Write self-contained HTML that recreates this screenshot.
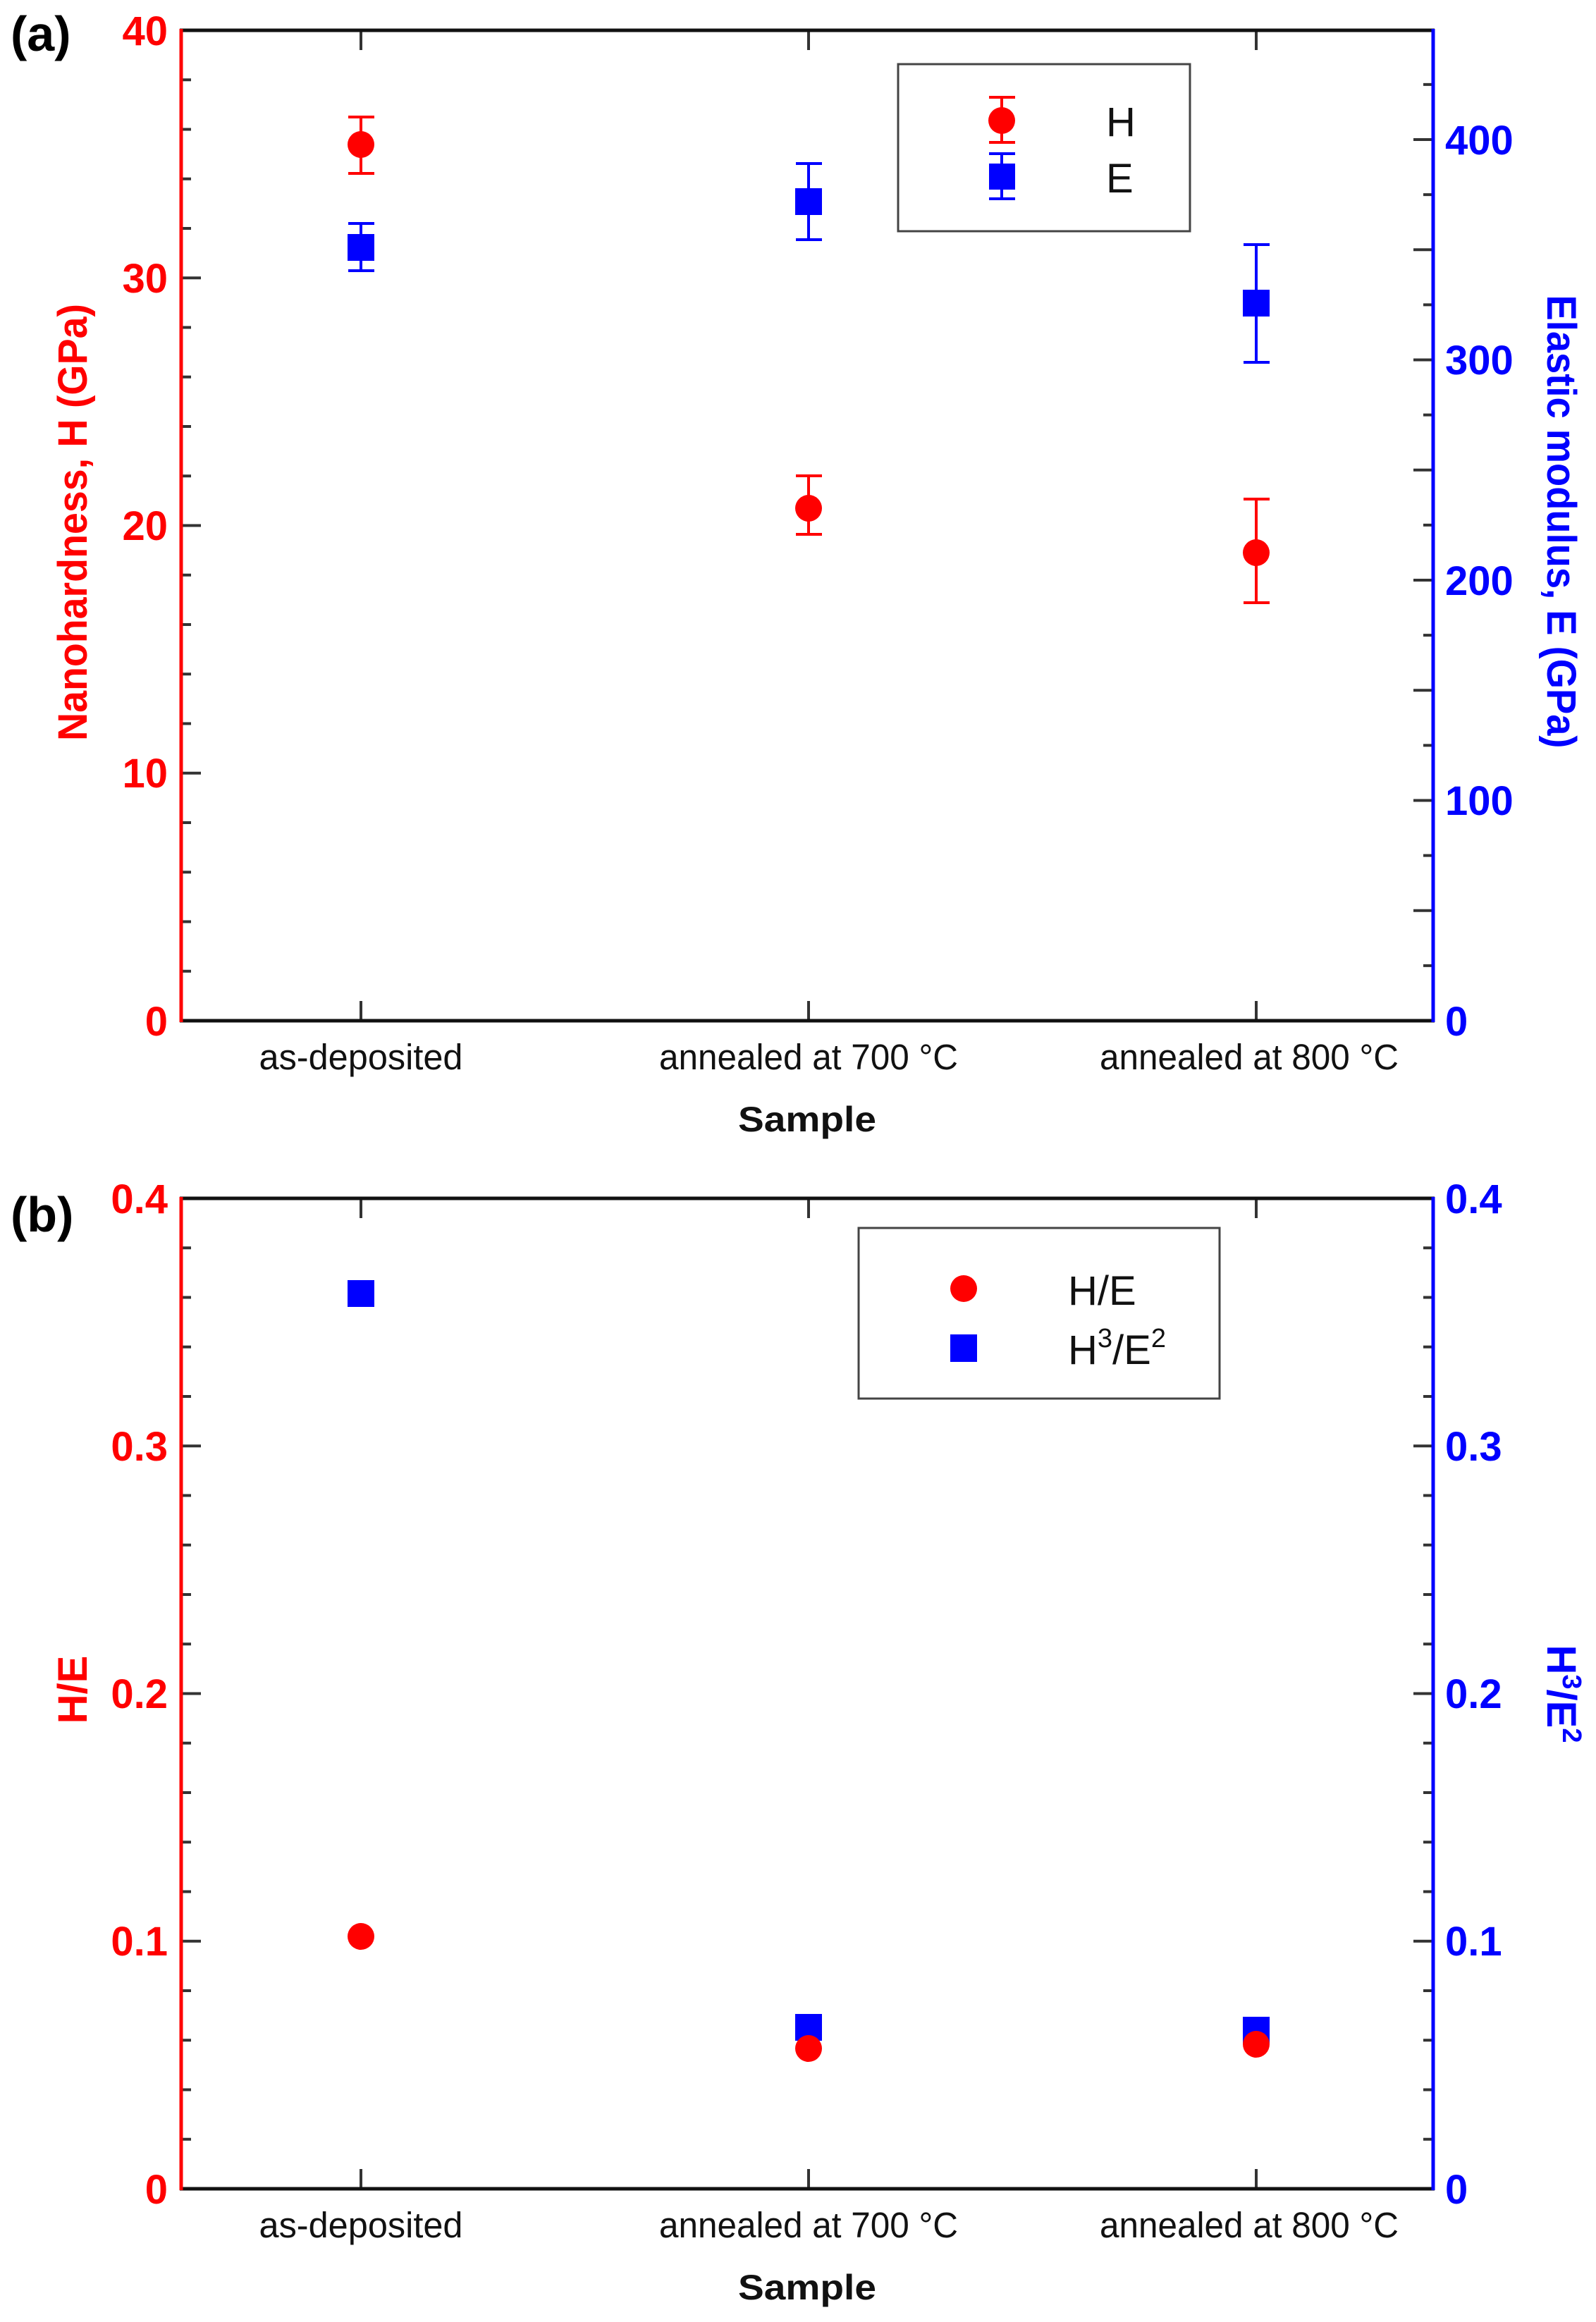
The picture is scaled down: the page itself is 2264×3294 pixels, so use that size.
<!DOCTYPE html>
<html><head><meta charset="utf-8"><style>
html,body{margin:0;padding:0;background:#fff;}
svg{display:block;}
text{font-family:"Liberation Sans",sans-serif;}
</style></head><body>
<svg width="2264" height="3294" viewBox="0 0 2264 3294" xmlns="http://www.w3.org/2000/svg">
<rect width="2264" height="3294" fill="#fff"/>

<!-- ===== PANEL A ===== -->
<g id="a">
<text x="15" y="72" font-size="70" font-weight="bold" fill="#000">(a)</text>
<!-- minor ticks left (every 2 units = 70.25px) -->
<g stroke="#333" stroke-width="4">
<path d="M257 113.25h14M257 183.5h14M257 253.75h14M257 324h14M257 464.5h14M257 534.75h14M257 605h14M257 675.25h14M257 815.75h14M257 886h14M257 956.25h14M257 1026.5h14M257 1167h14M257 1237.25h14M257 1307.5h14M257 1377.75h14"/>
<path d="M257 394.25h28M257 745.5h28M257 1096.75h28"/>
<!-- right minor ticks every 25 = 78.125 -->
<path d="M2033 1369.9h-14M2033 1213.6h-14M2033 1057.4h-14M2033 901.1h-14M2033 744.9h-14M2033 588.6h-14M2033 432.4h-14M2033 276.1h-14M2033 119.9h-14"/>
<path d="M2033 1291.75h-28M2033 1135.5h-28M2033 979.25h-28M2033 823h-28M2033 666.75h-28M2033 510.5h-28M2033 354.25h-28M2033 198h-28"/>
<!-- category ticks -->
<path d="M512 43v28M1147 43v28M1782 43v28M512 1448v-28M1147 1448v-28M1782 1448v-28"/>
</g>
<line x1="255" y1="43" x2="2035" y2="43" stroke="#111" stroke-width="5"/>
<line x1="255" y1="1448" x2="2035" y2="1448" stroke="#111" stroke-width="5"/>
<line x1="257" y1="41" x2="257" y2="1450" stroke="#f00" stroke-width="5"/>
<line x1="2033" y1="41" x2="2033" y2="1450" stroke="#00f" stroke-width="5"/>
<!-- left tick labels -->
<g font-size="58" font-weight="bold" fill="#f00" text-anchor="end">
<text x="238" y="64">40</text><text x="238" y="415">30</text><text x="238" y="766">20</text><text x="238" y="1117">10</text><text x="238" y="1469">0</text>
</g>
<g font-size="58" font-weight="bold" fill="#00f">
<text x="2050" y="219">400</text><text x="2050" y="531">300</text><text x="2050" y="844">200</text><text x="2050" y="1156">100</text><text x="2050" y="1469">0</text>
</g>
<text transform="translate(123,741) rotate(-90)" font-size="58" font-weight="bold" fill="#f00" text-anchor="middle" textLength="620" lengthAdjust="spacingAndGlyphs">Nanohardness, H (GPa)</text>
<text transform="translate(2195,740) rotate(90)" font-size="58" font-weight="bold" fill="#00f" text-anchor="middle" textLength="643" lengthAdjust="spacingAndGlyphs">Elastic modulus, E (GPa)</text>
<g font-size="51" fill="#111" text-anchor="middle">
<text x="512" y="1517" textLength="289" lengthAdjust="spacingAndGlyphs">as-deposited</text>
<text x="1147" y="1517" textLength="424" lengthAdjust="spacingAndGlyphs">annealed at 700 °C</text>
<text x="1772" y="1517" textLength="424" lengthAdjust="spacingAndGlyphs">annealed at 800 °C</text>
</g>
<text x="1145" y="1605" font-size="50" font-weight="bold" fill="#111" text-anchor="middle" textLength="196" lengthAdjust="spacingAndGlyphs">Sample</text>

<!-- H data -->
<g stroke="#f00" stroke-width="4" fill="none">
<path d="M512 166v80M494 166h37M494 246h37"/>
<path d="M1147 675v83M1129 675h37M1129 758h37"/>
<path d="M1782 708v147M1764 708h37M1764 855h37"/>
</g>
<g fill="#f00"><circle cx="512" cy="205" r="19"/><circle cx="1147" cy="721" r="19"/><circle cx="1782" cy="784" r="19"/></g>
<!-- E data -->
<g stroke="#00f" stroke-width="4" fill="none">
<path d="M512 317v67M494 317h37M494 384h37"/>
<path d="M1147 232v108M1129 232h37M1129 340h37"/>
<path d="M1782 347v167M1764 347h37M1764 514h37"/>
</g>
<g fill="#00f"><rect x="493" y="332" width="38" height="38"/><rect x="1128" y="267" width="38" height="38"/><rect x="1763" y="411" width="38" height="38"/></g>
<!-- legend -->
<rect x="1274" y="91" width="414" height="237" fill="#fff" stroke="#444" stroke-width="3"/>
<g stroke="#f00" stroke-width="4"><path d="M1421 138v64M1403 138h37M1403 202h37"/></g>
<circle cx="1421" cy="171" r="19" fill="#f00"/>
<g stroke="#00f" stroke-width="4"><path d="M1421 218v64M1403 218h37M1403 282h37"/></g>
<rect x="1403" y="232" width="37" height="37" fill="#00f"/>
<g font-size="58" fill="#111"><text x="1569" y="193">H</text><text x="1569" y="273">E</text></g>
</g>

<!-- ===== PANEL B ===== -->
<g id="b">
<text x="15" y="1747" font-size="70" font-weight="bold" fill="#000">(b)</text>
<g stroke="#333" stroke-width="4">
<path d="M257 1770.25h14M257 1840.5h14M257 1910.75h14M257 1981h14M257 2121.5h14M257 2191.75h14M257 2262h14M257 2332.25h14M257 2472.75h14M257 2543h14M257 2613.25h14M257 2683.5h14M257 2824h14M257 2894.25h14M257 2964.5h14M257 3034.75h14"/>
<path d="M257 2051.25h28M257 2402.5h28M257 2753.75h28"/>
<path d="M2033 1770.25h-14M2033 1840.5h-14M2033 1910.75h-14M2033 1981h-14M2033 2121.5h-14M2033 2191.75h-14M2033 2262h-14M2033 2332.25h-14M2033 2472.75h-14M2033 2543h-14M2033 2613.25h-14M2033 2683.5h-14M2033 2824h-14M2033 2894.25h-14M2033 2964.5h-14M2033 3034.75h-14"/>
<path d="M2033 2051.25h-28M2033 2402.5h-28M2033 2753.75h-28"/>
<path d="M512 1700v28M1147 1700v28M1782 1700v28M512 3105v-28M1147 3105v-28M1782 3105v-28"/>
</g>
<line x1="255" y1="1700" x2="2035" y2="1700" stroke="#111" stroke-width="5"/>
<line x1="255" y1="3105" x2="2035" y2="3105" stroke="#111" stroke-width="5"/>
<line x1="257" y1="1698" x2="257" y2="3107" stroke="#f00" stroke-width="5"/>
<line x1="2033" y1="1698" x2="2033" y2="3107" stroke="#00f" stroke-width="5"/>
<g font-size="58" font-weight="bold" fill="#f00" text-anchor="end">
<text x="238" y="1721">0.4</text><text x="238" y="2072">0.3</text><text x="238" y="2423">0.2</text><text x="238" y="2774">0.1</text><text x="238" y="3126">0</text>
</g>
<g font-size="58" font-weight="bold" fill="#00f">
<text x="2050" y="1721">0.4</text><text x="2050" y="2072">0.3</text><text x="2050" y="2423">0.2</text><text x="2050" y="2774">0.1</text><text x="2050" y="3126">0</text>
</g>
<text transform="translate(123,2397) rotate(-90)" font-size="58" font-weight="bold" fill="#f00" text-anchor="middle">H/E</text>
<text transform="translate(2195,2403) rotate(90)" font-size="58" font-weight="bold" fill="#00f" text-anchor="middle">H<tspan font-size="38" dy="-22">3</tspan><tspan dy="22">/E</tspan><tspan font-size="38" dy="-22">2</tspan></text>
<g font-size="51" fill="#111" text-anchor="middle">
<text x="512" y="3174" textLength="289" lengthAdjust="spacingAndGlyphs">as-deposited</text>
<text x="1147" y="3174" textLength="424" lengthAdjust="spacingAndGlyphs">annealed at 700 °C</text>
<text x="1772" y="3174" textLength="424" lengthAdjust="spacingAndGlyphs">annealed at 800 °C</text>
</g>
<text x="1145" y="3262" font-size="50" font-weight="bold" fill="#111" text-anchor="middle" textLength="196" lengthAdjust="spacingAndGlyphs">Sample</text>
<g fill="#00f"><rect x="493" y="1816" width="38" height="38"/><rect x="1128" y="2857" width="38" height="38"/><rect x="1763" y="2861" width="38" height="38"/></g>
<g fill="#f00"><circle cx="512" cy="2747" r="19"/><circle cx="1147" cy="2906" r="19"/><circle cx="1782" cy="2900" r="19"/></g>
<rect x="1218" y="1742" width="512" height="242" fill="#fff" stroke="#444" stroke-width="3"/>
<circle cx="1367" cy="1828" r="19" fill="#f00"/>
<rect x="1348" y="1893" width="38" height="39" fill="#00f"/>
<g font-size="58" fill="#111">
<text x="1515" y="1851">H/E</text>
<text x="1515" y="1935">H<tspan font-size="38" dy="-24">3</tspan><tspan dy="24">/E</tspan><tspan font-size="38" dy="-24">2</tspan></text>
</g>
</g>
</svg>
</body></html>
